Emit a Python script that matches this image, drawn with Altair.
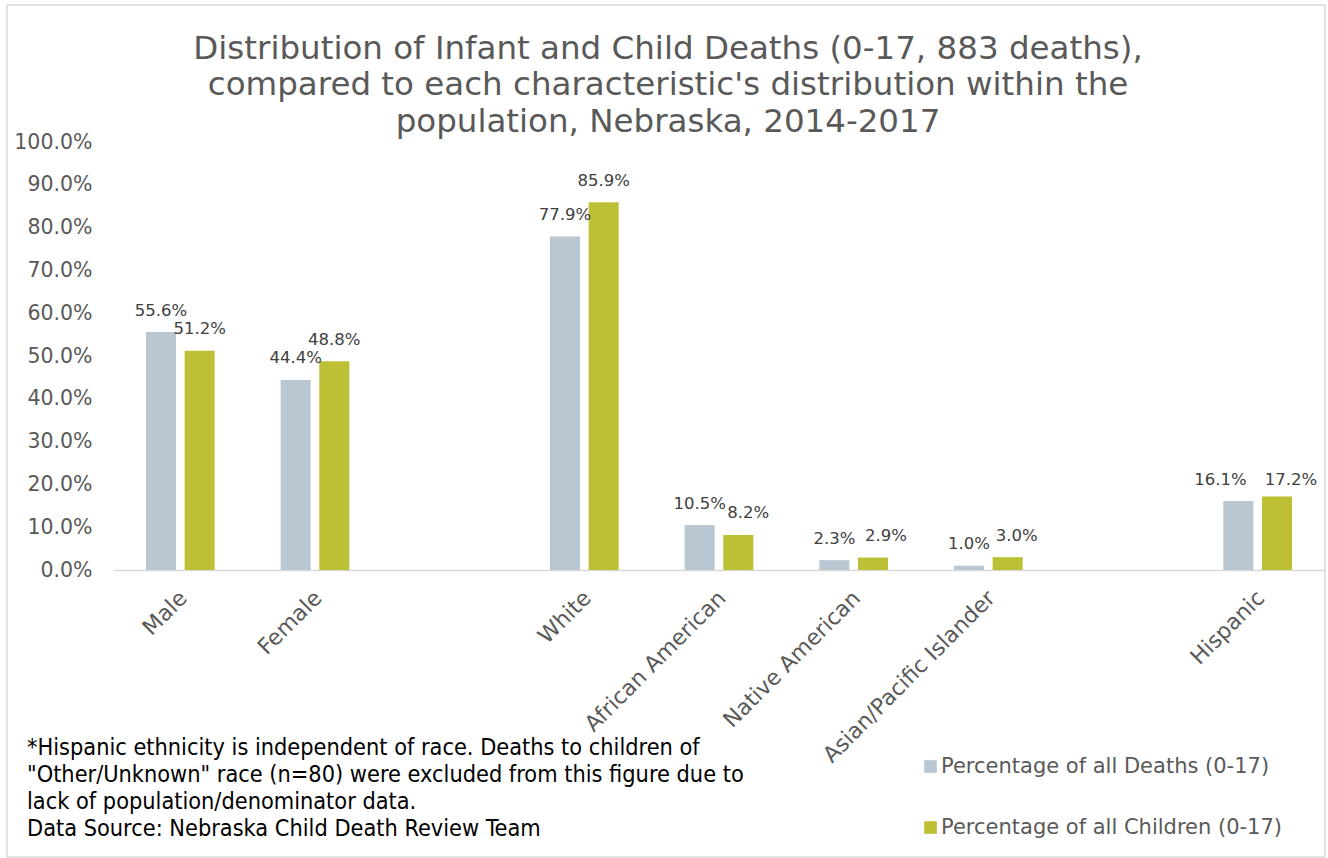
import altair as alt
import pandas as pd

# Categories (sex, race, ethnicity) and the two compared distributions, in percent
categories = ["Male", "Female", "White", "African American", "Native American",
              "Asian/Pacific Islander", "Hispanic"]
pct_deaths = [55.6, 44.4, 77.9, 10.5, 2.3, 1.0, 16.1]
pct_children = [51.2, 48.8, 85.9, 8.2, 2.9, 3.0, 17.2]

series_names = ["Percentage of all Deaths (0-17)", "Percentage of all Children (0-17)"]
series_colors = ["#b9c7d2", "#bdc035"]

# Blank slots separate the sex, race and ethnicity groups on the x axis
axis_domain = ["Male", "Female", " ", "White", "African American", "Native American",
               "Asian/Pacific Islander", "  ", "Hispanic"]
y_ticks = [0, 10, 20, 30, 40, 50, 60, 70, 80, 90, 100]

title_lines = [
    "Distribution of Infant and Child Deaths (0-17, 883 deaths),",
    "compared to each characteristic's distribution within the",
    "population, Nebraska, 2014-2017",
]
note_lines = [
    "*Hispanic ethnicity is independent of race. Deaths to children of",
    "\"Other/Unknown\" race (n=80) were excluded from this figure due to",
    "lack of population/denominator data.",
    "Data Source: Nebraska Child Death Review Team",
]

rows = []
for cat, d, c in zip(categories, pct_deaths, pct_children):
    rows.append({"category": cat, "series": series_names[0], "value": d})
    rows.append({"category": cat, "series": series_names[1], "value": c})
df = pd.DataFrame(rows)

W, H = 1212, 428
FONT = "DejaVu Sans"
GREY_TEXT = "#595959"

x_enc = alt.X(
    "category:N",
    scale=alt.Scale(domain=axis_domain, paddingInner=0.49, paddingOuter=0.245),
    sort=axis_domain,
    axis=alt.Axis(
        title=None, labelAngle=-45, labelAlign="right", labelBaseline="top",
        labelPadding=17, labelOffset=-4, labelFont=FONT, labelFontSize=22,
        labelColor=GREY_TEXT, ticks=False, domainColor="#d9d9d9", domainWidth=1.5,
        labelOverlap=False, labelLimit=400,
    ),
)
xoff_enc = alt.XOffset(
    "series:N", sort=series_names,
    scale=alt.Scale(domain=series_names, paddingInner=0.223, paddingOuter=0),
)
y_enc = alt.Y(
    "value:Q",
    scale=alt.Scale(domain=[0, 100], nice=False),
    axis=alt.Axis(
        title=None, values=y_ticks, labelExpr="format(datum.value, '.1f') + '%'",
        labelFont=FONT, labelFontSize=20.5, labelColor=GREY_TEXT, labelPadding=21,
        ticks=False, domain=False, grid=False,
    ),
)

base = alt.Chart(df).encode(x=x_enc, xOffset=xoff_enc, y=y_enc)

bars = base.mark_bar().encode(
    color=alt.Color(
        "series:N",
        scale=alt.Scale(domain=series_names, range=series_colors),
        title=None,
        legend=alt.Legend(
            orient="none", legendX=807, legendY=614, direction="vertical",
            symbolType="square", symbolSize=160, symbolStrokeWidth=0,
            labelFont=FONT, labelFontSize=21, labelColor=GREY_TEXT,
            rowPadding=39, labelOffset=0, padding=0, labelLimit=500,
        ),
    )
)

# Value labels above each bar; a few are nudged sideways so neighbours don't collide
label_nudges = {
    ("African American", series_names[1]): (10, 0),
    ("Native American", series_names[1]): (13, 0),
    ("Asian/Pacific Islander", series_names[1]): (9, 0),
    ("Hispanic", series_names[0]): (-18, 0),
    ("Hispanic", series_names[1]): (14, 5),
}

labels_base = base.transform_calculate(
    label="format(datum.value, '.1f') + '%'",
    key="datum.category + '|' + datum.series",
)
nudged_keys = [f"{c}|{s}" for (c, s) in label_nudges]

text_style = dict(font=FONT, fontSize=16.5, color="#404040", baseline="middle", align="center")
label_layers = [
    labels_base.transform_filter(
        alt.FieldOneOfPredicate(field="key", oneOf=nudged_keys).__invert__()
    ).mark_text(dy=-21.5, **text_style).encode(text="label:N")
]
for (c, s), (dx, dy) in label_nudges.items():
    label_layers.append(
        labels_base.transform_filter(f"datum.key == '{c}|{s}'")
        .mark_text(dx=dx, dy=-21.5 + dy, **text_style)
        .encode(text="label:N")
    )

one = pd.DataFrame({"k": [0]})

title_text = alt.Chart(one).mark_text(
    font=FONT, fontSize=32.5, color=GREY_TEXT, align="center", baseline="alphabetic",
    lineHeight=36.2, lineBreak="\n",
).encode(x=alt.value(555), y=alt.value(-82.7), text=alt.value("\n".join(title_lines)))

note_text = alt.Chart(one).mark_text(
    font="Liberation Sans Narrow, DejaVu Sans Condensed, sans-serif", fontSize=23.3,
    color="#000000", align="left", baseline="middle", lineHeight=27, lineBreak="\n",
).encode(x=alt.value(-86), y=alt.value(606), text=alt.value("\n".join(note_lines)))

frame = alt.Chart(one).mark_rect(fill="transparent", stroke="#d9d9d9", strokeWidth=1.5).encode(
    x=alt.value(-106), x2=alt.value(1212), y=alt.value(-137), y2=alt.value(715)
)

chart = alt.layer(frame, bars, *label_layers, title_text, note_text).properties(
    width=W, height=H,
    autosize=alt.AutoSizeParams(type="none"),
    padding={"left": 113, "top": 142, "right": 3, "bottom": 288},
    background="white",
).configure_view(stroke=None)

chart.save("out.html", embed_options={"renderer": "svg", "actions": False})
